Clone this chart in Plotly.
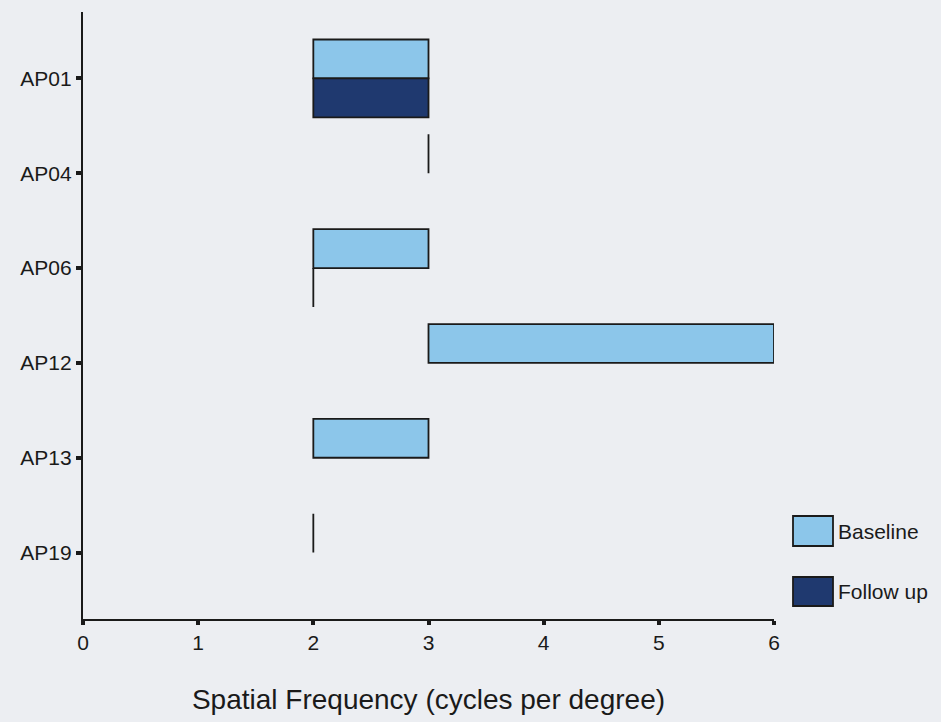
import plotly.graph_objects as go

# Data (range of spatial frequencies, cycles per degree)
patients = ["AP01", "AP04", "AP06", "AP12", "AP13", "AP19"]
series_names = ["Baseline", "Follow up"]
baseline_start = [2, 3, 2, 3, 2, 2]
baseline_end = [3, 3, 3, 6, 3, 2]
followup_start = [2, None, 2, None, None, None]
followup_end = [3, None, 2, None, None, None]
x_ticks = [0, 1, 2, 3, 4, 5, 6]

colors = ["#8cc6ea", "#1f396f"]
bg = "#eceef2"
font_family = "Liberation Sans, Arial, sans-serif"


def widths(starts, ends):
    return [None if s is None else e - s for s, e in zip(starts, ends)]


fig = go.Figure()
for name, starts, ends, col in [
    (series_names[0], baseline_start, baseline_end, colors[0]),
    (series_names[1], followup_start, followup_end, colors[1]),
]:
    fig.add_trace(go.Bar(
        name=name,
        y=patients,
        x=widths(starts, ends),
        base=starts,
        orientation="h",
        marker=dict(color=col, line=dict(color="#1a1a1a", width=1.8)),
        showlegend=False,
    ))

# Plot-area geometry (pixels) used to place the custom legend
L, T, R, B = 83, 12, 167, 103
W = 941 - L - R
H = 722 - T - B


def px_x(p):
    return (p - L) / W


def px_y(p):
    return (722 - B - p) / H


shapes = []
annotations = []
legend_rows = [(516, 546), (577, 606)]
for (y0, y1), name, col in zip(legend_rows, series_names, colors):
    shapes.append(dict(
        type="rect", xref="paper", yref="paper",
        x0=px_x(793), x1=px_x(833), y0=px_y(y1), y1=px_y(y0),
        fillcolor=col, line=dict(color="#1a1a1a", width=1.8),
    ))
    annotations.append(dict(
        xref="paper", yref="paper", x=px_x(836), y=px_y((y0 + y1) / 2),
        text=name, showarrow=False, xanchor="left", yanchor="middle",
        font=dict(size=21, color="#1a1a1a", family=font_family),
    ))

fig.update_layout(
    width=941, height=722,
    margin=dict(l=L, r=R, t=T, b=B),
    paper_bgcolor=bg, plot_bgcolor=bg,
    barmode="group", bargap=0.18, bargroupgap=0,
    font=dict(family=font_family, color="#1a1a1a"),
    shapes=shapes, annotations=annotations,
    xaxis=dict(
        range=[0, 6], tickvals=x_ticks, ticktext=[str(v) for v in x_ticks],
        showgrid=False, zeroline=False,
        showline=True, linecolor="#1a1a1a", linewidth=2,
        ticks="outside", ticklen=4, tickwidth=3.5, tickcolor="#1a1a1a",
        tickfont=dict(size=21, color="#1a1a1a"),
        title=dict(text="Spatial Frequency (cycles per degree)",
                   font=dict(size=28, color="#1a1a1a"), standoff=36),
        fixedrange=True,
    ),
    yaxis=dict(
        categoryorder="array", categoryarray=patients,
        range=[5.7, -0.7],
        showgrid=False, zeroline=False,
        showline=True, linecolor="#1a1a1a", linewidth=2.2,
        ticks="outside", ticklen=5, tickwidth=3.5, tickcolor="#1a1a1a",
        tickfont=dict(size=21, color="#1a1a1a"),
        fixedrange=True,
    ),
)

fig.write_html("out.html")
